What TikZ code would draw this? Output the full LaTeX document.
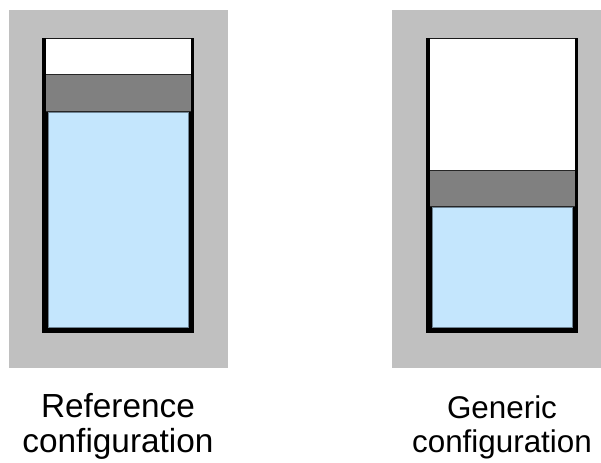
\documentclass[tikz,border=0pt]{standalone}
\usepackage{fontspec}
\setmainfont{Liberation Sans}
\usetikzlibrary{positioning}
\definecolor{casegray}{HTML}{C0C0C0}
\definecolor{pistongray}{HTML}{808080}
\definecolor{liquidblue}{HTML}{C4E6FD}
\definecolor{liquidedge}{HTML}{6F8494}

\begin{document}
\begin{tikzpicture}[
    x=1bp, y=-1bp,
    backdrop/.style={fill=casegray},
    gas/.style={fill=white},
    piston/.style={fill=pistongray, draw=black!85, line width=1bp},
    liquid/.style={fill=liquidblue, draw=liquidedge, line width=0.6bp},
    wall/.style={fill=black},
    rim/.style={draw=black!90, line width=1.2bp},
    caption/.style={anchor=base, inner sep=0pt}
]
    \useasboundingbox (0,0) rectangle (601,463);

    % === LEFT: REFERENCE CONFIGURATION ===
    \fill[backdrop] (9,10) rectangle (228,368);
    \fill[gas] (45.5,38) rectangle (191,75);
    \filldraw[piston] (45.5,75) rectangle (191,111.5);
    \fill[wall] (42,112) rectangle (194,333);
    \filldraw[liquid] (48,112.5) rectangle (188.5,327);
    \draw[rim] (42,38.5) -- (194,38.5);
    \fill[wall] (42,38) rectangle (45.5,333);
    \fill[wall] (190.5,38) rectangle (194,333);

    \node[caption, font=\fontsize{33.5}{35}\selectfont] (refname) at (118,417) {Reference};
    \node[caption, font=\fontsize{33.5}{35}\selectfont] (refconf) at (118,452) {configuration};

    % === RIGHT: GENERIC CONFIGURATION ===
    \fill[backdrop] (392,10) rectangle (601,368);
    \fill[gas] (429.5,38) rectangle (575,171);
    \filldraw[piston] (429.5,171) rectangle (575,206.5);
    \fill[wall] (426,207) rectangle (578,333);
    \filldraw[liquid] (432,207.5) rectangle (572.5,327);
    \draw[rim] (426,38.5) -- (578,38.5);
    \fill[wall] (426,38) rectangle (429.5,333);
    \fill[wall] (574.5,38) rectangle (578,333);

    \node[caption, font=\fontsize{31.5}{35}\selectfont] (genname) at (502,418) {Generic};
    \node[caption, font=\fontsize{31.5}{35}\selectfont] (genconf) at (502,452) {configuration};
\end{tikzpicture}
\end{document}
